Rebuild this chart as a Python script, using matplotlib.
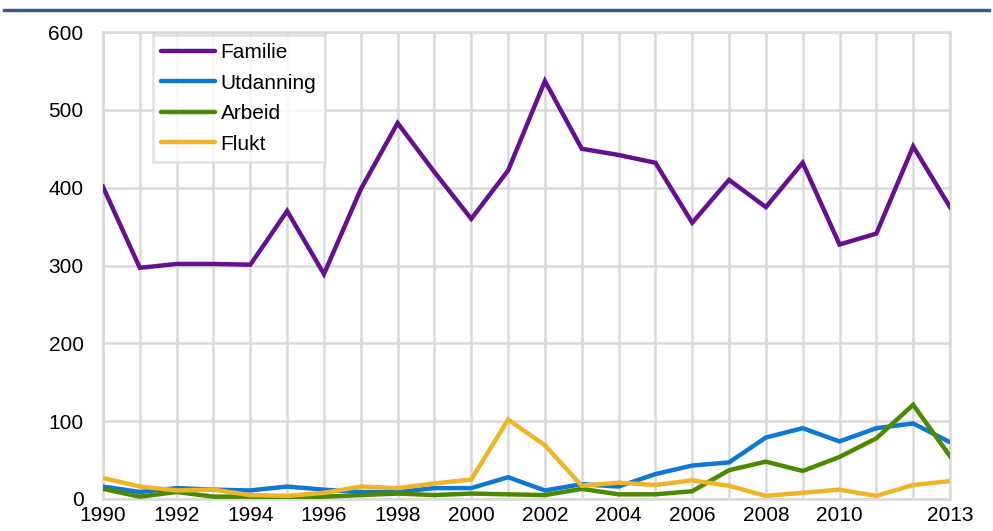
import matplotlib.pyplot as plt
from matplotlib.lines import Line2D

plt.rcParams['font.family'] = ['Liberation Sans', 'DejaVu Sans']

years = list(range(1990, 2014))
familie = [401, 297, 302, 302, 301, 370, 289, 398, 483, 420, 360, 422,
           537, 450, 442, 432, 355, 410, 375, 432, 327, 341, 453, 375]
utdanning = [16, 9, 14, 12, 11, 16, 12, 9, 9, 14, 14, 28,
             11, 19, 16, 32, 43, 47, 79, 91, 74, 91, 97, 73]
arbeid = [13, 3, 9, 3, 3, 1, 3, 5, 7, 5, 7, 6,
          5, 13, 6, 6, 10, 37, 48, 36, 54, 78, 121, 55]
flukt = [27, 16, 11, 12, 5, 4, 8, 16, 14, 20, 25, 102,
         69, 17, 21, 18, 24, 17, 4, 8, 12, 4, 18, 23]

names = ['Familie', 'Utdanning', 'Arbeid', 'Flukt']
colors = ['#660f8f', '#0f78d4', '#4a8a00', '#f0b428']
tick_years = [1990, 1992, 1994, 1996, 1998, 2000, 2002, 2004, 2006, 2008, 2010, 2013]

fig = plt.figure(figsize=(9.93, 5.31), dpi=100)
ax = fig.add_axes([103 / 993, 32 / 531, 847 / 993, 467 / 531])

for vals, c in zip([familie, utdanning, arbeid, flukt], colors):
    ax.plot(years, vals, color=c, lw=3.2, solid_joinstyle='miter', zorder=3)

ax.set_xlim(1990, 2013)
ax.set_ylim(0, 600)
ax.set_xticks(years, minor=True)
ax.set_xticks(tick_years)
ax.set_yticks(range(0, 601, 100))
ax.grid(True, which='both', color='#d9d9d9', lw=1.8)
ax.tick_params(which='both', length=0, labelsize=15)
ax.tick_params(axis='x', pad=5)
ax.tick_params(axis='y', pad=14)
for s in ax.spines.values():
    s.set_color('#d9d9d9')
    s.set_linewidth(1.8)

handles = [Line2D([], [], color=c, lw=3.2, solid_capstyle='round') for c in colors]
leg = ax.legend(handles, names, loc='upper left', bbox_to_anchor=(0.059, 0.994),
                fontsize=15, frameon=True, fancybox=False, handlelength=2.6,
                handletextpad=0.24, labelspacing=0.55, borderpad=0.4,
                borderaxespad=0)
leg.get_frame().set_edgecolor('#d9d9d9')
leg.get_frame().set_linewidth(1.8)

# heading rule at the top
fig.add_artist(Line2D([4 / 993, 989 / 993], [1 - 10 / 531, 1 - 10 / 531],
                      color='#3d5a8a', lw=2.5))

fig.savefig('out.png', dpi=100)
